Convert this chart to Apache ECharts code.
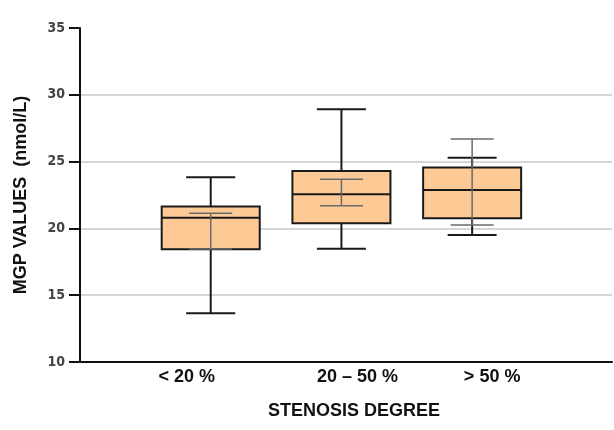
<!DOCTYPE html>
<html>
<head>
<meta charset="utf-8">
<script src="https://cdn.jsdelivr.net/npm/echarts@6/dist/echarts.min.js"></script>
<style>html,body{margin:0;padding:0;background:#fff}#c{width:614px;height:430px}</style>
</head>
<body>
<div id="c"></div>
<script>
// data
var categories = ['< 20 %', '20 \u2013 50 %', '> 50 %'];
// [lower whisker, Q1, median, Q3, upper whisker]
var boxValues = [
  [13.65, 18.44, 20.8, 21.63, 23.83],
  [18.48, 20.38, 22.55, 24.3, 28.91],
  [19.5, 20.76, 22.87, 24.55, 25.29]
];
// thin interval overlay [low, high]
var intervalValues = [
  [18.45, 21.13],
  [21.7, 23.68],
  [20.26, 26.69]
];
var yTicks = [10, 15, 20, 25, 30, 35];

var boxData = boxValues.map(function (v, i) { return [i + 1].concat(v); });
var intData = intervalValues.map(function (v, i) { return [i + 1].concat(v); });

var chart = echarts.init(document.getElementById('c'));
var labelShift = ['a', 'b', 'c'];
var lblFont = { fontFamily: 'Liberation Sans, Arial, sans-serif', fontWeight: 'bold', fontSize: 18, color: '#111' };
function rs(pad) { return Object.assign({}, lblFont, { padding: pad }); }

chart.setOption({
  backgroundColor: '#ffffff',
  animation: false,
  grid: { left: 80, right: 2, top: 28, bottom: 68 },
  xAxis: {
    type: 'value', min: 0, max: 4.07,
    axisLine: { show: true, onZero: false, lineStyle: { color: '#111', width: 2 } },
    axisTick: { show: false },
    splitLine: { show: false },
    axisLabel: {
      customValues: [1, 2, 3],
      margin: 6,
      formatter: function (v) {
        var i = Math.round(v) - 1;
        return '{' + labelShift[i] + '|' + categories[i] + '}';
      },
      rich: {
        a: rs([0, 48, 0, 0]),
        b: rs([0, 0, 0, 32]),
        c: rs([0, 0, 0, 40])
      }
    },
    name: 'STENOSIS DEGREE',
    nameLocation: 'middle',
    nameGap: 40,
    nameTextStyle: Object.assign({}, lblFont, { padding: [0, 0, 0, 16] })
  },
  yAxis: {
    type: 'value', min: yTicks[0], max: yTicks[yTicks.length - 1], interval: 5,
    axisLine: { show: true, lineStyle: { color: '#111', width: 2 } },
    axisTick: { show: true, inside: false, length: 11, lineStyle: { color: '#111', width: 2 } },
    axisLabel: { margin: 15, fontFamily: 'Liberation Sans Narrow, DejaVu Sans Condensed, sans-serif', fontWeight: 'bold', fontSize: 14, color: '#444' },
    splitLine: { show: true, lineStyle: { color: ['#c8c8c8', '#c8c8c8', '#c8c8c8', '#c8c8c8', '#c8c8c8', 'rgba(0,0,0,0)'], width: 1.5 } },
    name: 'MGP VALUES  (nmol/L)',
    nameLocation: 'middle',
    nameGap: 50,
    nameTextStyle: lblFont
  },
  series: [
    {
      type: 'custom',
      data: boxData,
      encode: { x: 0, y: [1, 2, 3, 4, 5] },
      renderItem: function (params, api) {
        var x = api.value(0);
        var lo = api.coord([x, api.value(1)]);
        var q1 = api.coord([x, api.value(2)]);
        var med = api.coord([x, api.value(3)]);
        var q3 = api.coord([x, api.value(4)]);
        var hi = api.coord([x, api.value(5)]);
        var bw = api.size([0.75, 0])[0];
        var cw = api.size([0.375, 0])[0];
        var cx = lo[0];
        var ls = { stroke: '#1a1a1a', lineWidth: 2, fill: null };
        return {
          type: 'group',
          children: [
            { type: 'line', shape: { x1: cx, y1: q3[1], x2: cx, y2: hi[1] }, style: ls },
            { type: 'line', shape: { x1: cx, y1: q1[1], x2: cx, y2: lo[1] }, style: ls },
            { type: 'line', shape: { x1: cx - cw / 2, y1: hi[1], x2: cx + cw / 2, y2: hi[1] }, style: ls },
            { type: 'line', shape: { x1: cx - cw / 2, y1: lo[1], x2: cx + cw / 2, y2: lo[1] }, style: ls },
            { type: 'rect', shape: { x: cx - bw / 2, y: q3[1], width: bw, height: q1[1] - q3[1] }, style: { fill: '#fdc995', stroke: '#1a1a1a', lineWidth: 2 } },
            { type: 'line', shape: { x1: cx - bw / 2, y1: med[1], x2: cx + bw / 2, y2: med[1] }, style: ls }
          ]
        };
      }
    },
    {
      type: 'custom',
      data: intData,
      encode: { x: 0, y: [1, 2] },
      z: 3,
      renderItem: function (params, api) {
        var x = api.value(0);
        var lo = api.coord([x, api.value(1)]);
        var hi = api.coord([x, api.value(2)]);
        var cw = api.size([0.33, 0])[0];
        var cx = lo[0];
        var ls = { stroke: '#6a6a6a', lineWidth: 1.5, fill: null };
        return {
          type: 'group',
          children: [
            { type: 'line', shape: { x1: cx, y1: lo[1], x2: cx, y2: hi[1] }, style: ls },
            { type: 'line', shape: { x1: cx - cw / 2, y1: hi[1], x2: cx + cw / 2, y2: hi[1] }, style: ls },
            { type: 'line', shape: { x1: cx - cw / 2, y1: lo[1], x2: cx + cw / 2, y2: lo[1] }, style: ls }
          ]
        };
      }
    }
  ]
});
</script>
</body>
</html>
